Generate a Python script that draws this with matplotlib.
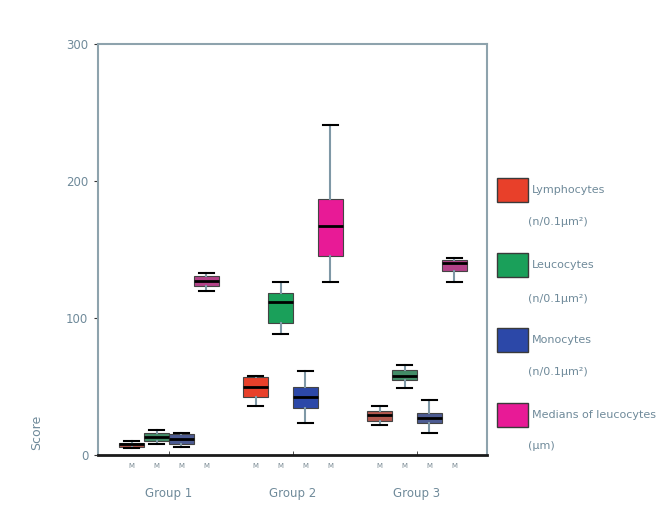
import matplotlib
matplotlib.use("Agg")
import matplotlib.pyplot as plt
from matplotlib.patches import Rectangle
import matplotlib.colors as mcolors
import numpy as np

groups = ["Group 1", "Group 2", "Group 3"]
series = ["Lymphocytes", "Leucocytes", "Monocytes", "Medians of leucocytes"]
series_units = ["(n/0.1\u00b5m\u00b2)", "(n/0.1\u00b5m\u00b2)", "(n/0.1\u00b5m\u00b2)", "(\u00b5m)"]
colors = ["#e8402a", "#1aa05a", "#2c48a8", "#e81a96"]

# per series: values for Group 1, Group 2, Group 3
whislo = {"Lymphocytes": [5, 36, 22], "Leucocytes": [8, 88, 49],
          "Monocytes": [6, 23, 16], "Medians of leucocytes": [120, 126, 126]}
q1 = {"Lymphocytes": [6, 42, 25], "Leucocytes": [10, 96, 55],
      "Monocytes": [8, 34, 23], "Medians of leucocytes": [123, 145, 134]}
med = {"Lymphocytes": [8, 50, 29], "Leucocytes": [13, 112, 58],
       "Monocytes": [12, 42, 27], "Medians of leucocytes": [127, 167, 140]}
q3 = {"Lymphocytes": [9, 57, 32], "Leucocytes": [16, 118, 62],
      "Monocytes": [15, 50, 31], "Medians of leucocytes": [131, 187, 142]}
whishi = {"Lymphocytes": [10, 58, 36], "Leucocytes": [18, 126, 66],
          "Monocytes": [16, 61, 40], "Medians of leucocytes": [133, 241, 144]}

yticks = [0, 100, 200, 300]

fig = plt.figure(figsize=(6.64, 5.05), dpi=100)
ax = fig.add_axes([98/664, 1-455/505, (487-98)/664, (455-44)/505])

offsets = [-0.3, -0.1, 0.1, 0.3]
spine_c = "#8ea3ad"
txt_c = "#6f8a9a"
positions_all = []
for gi, g in enumerate(groups):
    for si, s in enumerate(series):
        pos = gi + 1 + offsets[si]
        positions_all.append(pos)
        stats = [dict(whislo=whislo[s][gi], q1=q1[s][gi], med=med[s][gi],
                      q3=q3[s][gi], whishi=whishi[s][gi], fliers=[])]
        base = np.array(mcolors.to_rgb(colors[si]))
        if gi != 1:
            fc = 0.55 * base + 0.45 * np.array([0.45, 0.45, 0.47])
        else:
            fc = base
        ax.bxp(stats, positions=[pos], widths=0.2, patch_artist=True,
               showfliers=False,
               boxprops=dict(facecolor=fc, edgecolor="#444444", linewidth=0.8),
               medianprops=dict(color="black", linewidth=2),
               whiskerprops=dict(color="#7f98a6", linewidth=1.5),
               capprops=dict(color="black", linewidth=1.5),
               capwidths=0.12)

ax.set_xlim(0.427, 3.565)
ax.set_ylim(0, 300)
ax.set_yticks(yticks)
ax.set_yticklabels([str(v) for v in yticks], color=txt_c, fontsize=8.5)
ax.tick_params(axis="y", length=3, color="#333333", pad=4)
ax.set_xticks(positions_all)
ax.set_xticklabels(["M"] * len(positions_all), fontsize=5, color="#7a8a94")
ax.tick_params(axis="x", length=0, pad=6)
ax.set_xticks([1, 2, 3], minor=True)
ax.tick_params(axis="x", which="minor", direction="in", length=3, color="#333333")

for sp in ["left", "top", "right"]:
    ax.spines[sp].set_color(spine_c)
    ax.spines[sp].set_linewidth(1.5)
ax.spines["bottom"].set_color("#1a1a1a")
ax.spines["bottom"].set_linewidth(2)

for gi, g in enumerate(groups):
    ax.text(gi + 1, -0.093, g, transform=ax.get_xaxis_transform(),
            ha="center", va="center", fontsize=8.5, color=txt_c)

fig.text(37/664, 1-432/505, "Score", rotation=90, ha="center", va="center",
         fontsize=9, color=txt_c)

# legend drawn manually outside the axes
leg_y = [190, 265, 340, 415]
leg_y2 = [222, 299, 372, 446]
for si, s in enumerate(series):
    yc = leg_y[si]
    fig.patches.append(Rectangle((497/664, 1-(yc+12)/505), 31/664, 24/505,
                                 transform=fig.transFigure, facecolor=colors[si],
                                 edgecolor="#3a3a3a", linewidth=1.0))
    fig.text(532/664, 1-yc/505, s, ha="left", va="center", fontsize=8, color=txt_c)
    fig.text(528/664, 1-leg_y2[si]/505, series_units[si], ha="left", va="center",
             fontsize=8, color=txt_c)

fig.savefig("out.png", dpi=100)
